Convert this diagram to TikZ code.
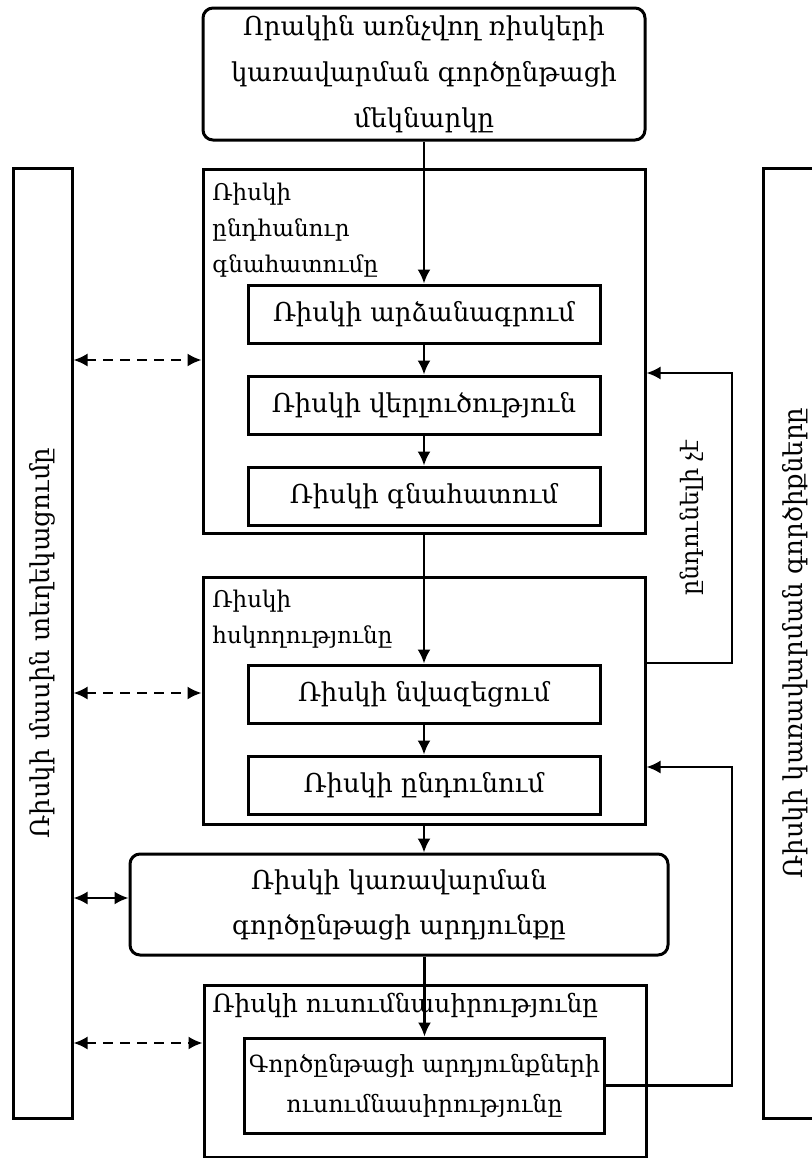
\documentclass[tikz,border=0pt]{standalone}
\usepackage{fontspec}
\setmainfont{DejaVu Serif}
\usetikzlibrary{positioning,calc,arrows.meta}

\begin{document}
\begin{tikzpicture}[x=0.5pt, y=-0.5pt, node distance=15pt,
  >={Latex[length=7pt,width=6.5pt]},
  stepbox/.style={draw, rectangle, line width=1.5pt, minimum width=176pt, minimum height=29pt, inner sep=2pt, align=center, font=\fontsize{13}{23}\selectfont},
  stagebox/.style={draw, rectangle, line width=1.5pt, minimum width=221pt},
  softbox/.style={draw, rectangle, rounded corners=5pt, line width=1.5pt, align=center, font=\fontsize{13}{23}\selectfont},
  sidebox/.style={draw, rectangle, line width=1.5pt, minimum height=475pt, inner sep=0pt, font=\fontsize{13}{23}\selectfont},
  stagelabel/.style={anchor=north west, align=left, inner sep=0pt, font=\fontsize{11.5}{18}\selectfont},
  solidarrow/.style={->, line width=1.1pt},
  dasharrow/.style={<->, line width=1.1pt, dash pattern=on 5pt off 3.5pt}
]
  \fill[white] (0,0) rectangle (811,1158);
  \useasboundingbox (0,0) rectangle (811,1158);

  % Nodes
  \node[softbox, minimum width=221pt, minimum height=66pt] (start) at (424,74) {Որակին առնչվող ռիսկերի\\կառավարման գործընթացի\\մեկնարկը};

  \node[stagebox, minimum height=182pt] (assess) at (424,351) {};
  \node[stagelabel] (assesslbl) at (212,183) {Ռիսկի\\ընդհանուր\\գնահատումը};
  \node[stepbox] (ident) at (424,314) {Ռիսկի արձանագրում};
  \node[stepbox, below=of ident] (analyse) {Ռիսկի վերլուծություն};
  \node[stepbox, below=of analyse] (evaluate) {Ռիսկի գնահատում};

  \node[stagebox, minimum height=123.5pt] (control) at (424,700.5) {};
  \node[stagelabel] (controllbl) at (212,590) {Ռիսկի\\հսկողությունը};
  \node[stepbox] (reduce) at (424,694) {Ռիսկի նվազեցում};
  \node[stepbox, below=of reduce] (accept) {Ռիսկի ընդունում};

  \node[softbox, minimum width=269pt, minimum height=50.5pt, font=\fontsize{13}{22.5}\selectfont] (result) at (399,904.5) {Ռիսկի կառավարման\\գործընթացի արդյունքը};

  \node[stagebox, minimum height=86pt] (review) at (425,1071) {};
  \node[stagelabel, font=\fontsize{12.5}{18}\selectfont] (reviewlbl) at (212,993) {Ռիսկի ուսումնասիրությունը};
  \node[stepbox, minimum height=47.5pt, font=\fontsize{11.8}{20}\selectfont] (lessons) at (424.5,1085.5) {Գործընթացի արդյունքների\\ուսումնասիրությունը};

  \node[sidebox, minimum width=29.5pt] (inform) at (42.5,643) {\rotatebox{90}{Ռիսկի մասին տեղեկացումը}};
  \node[sidebox, minimum width=32pt] (tools) at (795,643) {\rotatebox{90}{Ռիսկի կառավարման գործիքները}};

  \node[rotate=90, font=\fontsize{12}{18}\selectfont] (notok) at (692,518) {ընդունելի չէ};
  \coordinate (upturn) at (732,373);
  \coordinate (lowturn) at (732,767);

  % Arrows
  \draw[solidarrow] (start) -- (ident);
  \draw[solidarrow] (ident) -- (analyse);
  \draw[solidarrow] (analyse) -- (evaluate);
  \draw[solidarrow] (assess.south) -- (reduce.north);
  \draw[solidarrow] (reduce) -- (accept);
  \draw[solidarrow] (control.south) -- (control.south |- result.north);
  \draw[solidarrow] (lessons.north |- result.south) -- (lessons.north);

  % Information
  \coordinate (ia) at ([yshift=-4.5pt]assess.west);
  \coordinate (ic) at ([yshift=3.75pt]control.west);
  \coordinate (ir) at ([yshift=3.25pt]result.west);
  \coordinate (iv) at ([yshift=14pt]review.west);
  \draw[dasharrow] (inform.east |- ia) -- (ia);
  \draw[dasharrow] (inform.east |- ic) -- (ic);
  \draw[solidarrow, <->] (inform.east |- ir) -- (ir);
  \draw[dasharrow] (inform.east |- iv) -- (iv);

  % Feedback
  \draw[solidarrow] ([yshift=18.75pt]control.east) -| (upturn) -- ([yshift=-11pt]assess.east);
  \draw[solidarrow] (lessons.east) -| (lowturn) -- ([yshift=-33.25pt]control.east);
\end{tikzpicture}
\end{document}
